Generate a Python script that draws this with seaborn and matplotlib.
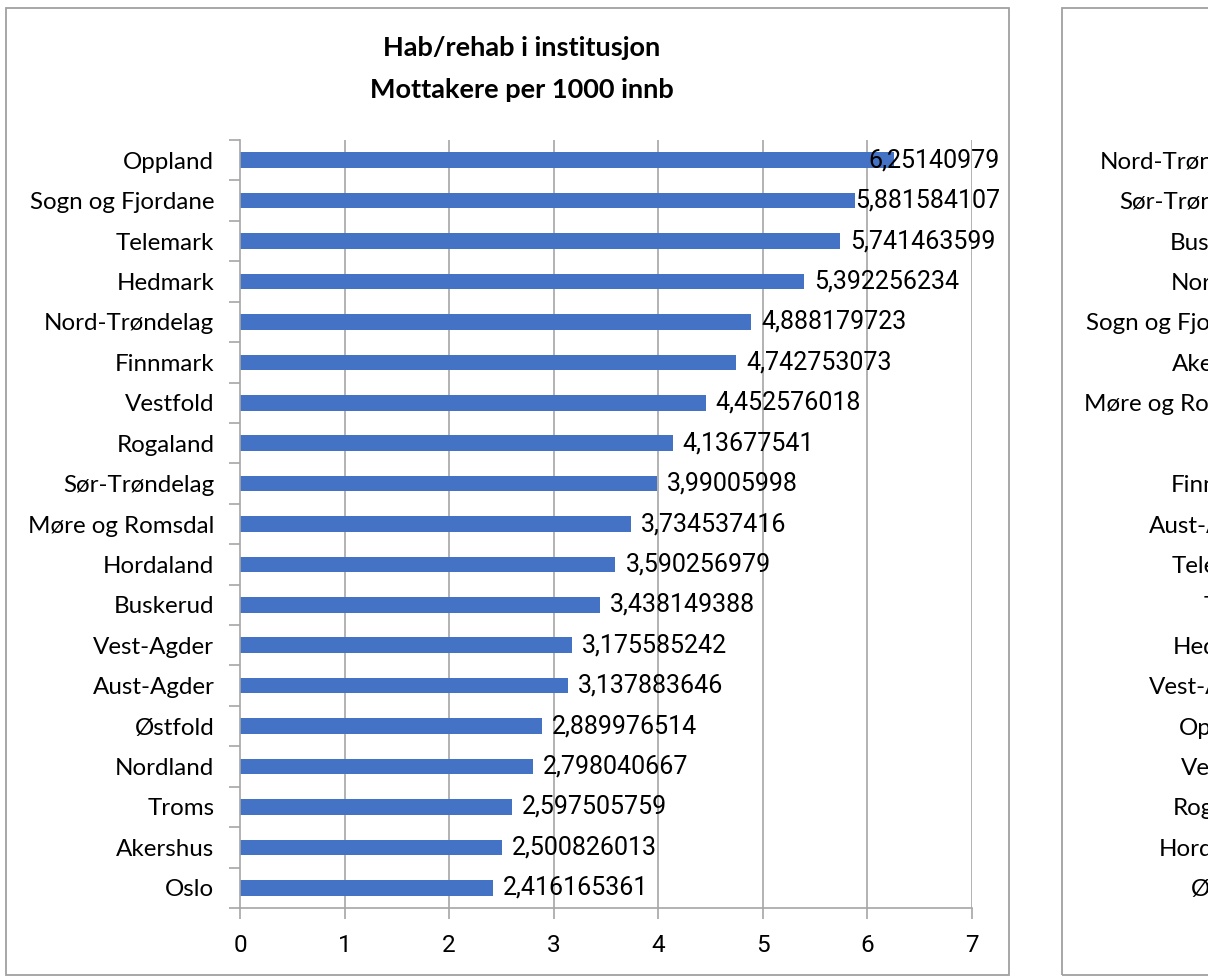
import matplotlib
matplotlib.use("Agg")
import matplotlib.pyplot as plt
import seaborn as sns
import pandas as pd
from matplotlib.patches import Rectangle
from matplotlib.ticker import FixedLocator
import matplotlib.transforms as mtransforms

# ---- data ----
counties = ["Oppland", "Sogn og Fjordane", "Telemark", "Hedmark", "Nord-Trøndelag",
            "Finnmark", "Vestfold", "Rogaland", "Sør-Trøndelag", "Møre og Romsdal",
            "Hordaland", "Buskerud", "Vest-Agder", "Aust-Agder", "Østfold",
            "Nordland", "Troms", "Akershus", "Oslo"]
values = [6.25140979, 5.881584107, 5.741463599, 5.392256234, 4.888179723,
          4.742753073, 4.452576018, 4.13677541, 3.99005998, 3.734537416,
          3.590256979, 3.438149388, 3.175585242, 3.137883646, 2.889976514,
          2.798040667, 2.597505759, 2.500826013, 2.416165361]
value_labels = ["6,25140979", "5,881584107", "5,741463599", "5,392256234", "4,888179723",
                "4,742753073", "4,452576018", "4,13677541", "3,99005998", "3,734537416",
                "3,590256979", "3,438149388", "3,175585242", "3,137883646", "2,889976514",
                "2,798040667", "2,597505759", "2,500826013", "2,416165361"]
x_ticks = [0, 1, 2, 3, 4, 5, 6, 7]
title_lines = ["Hab/rehab i institusjon", "Mottakere per 1000 innb"]

# second (cut-off) chart: only its category order is visible
counties2 = ["Nord-Trøndelag", "Sør-Trøndelag", "Buskerud", "Nordland", "Sogn og Fjordane",
             "Akershus", "Møre og Romsdal", "Oslo", "Finnmark", "Aust-Agder", "Telemark",
             "Troms", "Hedmark", "Vest-Agder", "Oppland", "Vestfold", "Rogaland",
             "Hordaland", "Østfold"]

W, H = 1208, 976
sns.set_theme(style="white")
plt.rcParams["font.family"] = ["Lato", "DejaVu Sans"]

BLUE = "#4472C4"
GRID = "#A6A6A6"
BORDER = "#A0A0A0"
FS_CAT = 17.4
FS_VAL = 18.0
FS_TICK = 17.5
NUM_FONT = ["Roboto", "DejaVu Sans"]

fig = plt.figure(figsize=(W / 100, H / 100), dpi=100)

def px_rect(x0, y0, x1, y1):
    return [x0 / W, 1 - y1 / H, (x1 - x0) / W, (y1 - y0) / H]

# chart borders
for (bx0, by0, bx1, by1) in [(6, 8, 1009, 975), (1062, 8, 2065, 975)]:
    r = px_rect(bx0, by0, bx1, by1)
    fig.patches.append(Rectangle((r[0], r[1]), r[2], r[3], transform=fig.transFigure,
                                 fill=False, edgecolor=BORDER, linewidth=1.3, zorder=0))

def style_axis(ax, cats):
    ax.set_xlim(0, 7)
    ax.set_ylim(len(cats) - 0.5, -0.5)
    ax.set_xticks(x_ticks)
    ax.set_xticklabels([str(t) for t in x_ticks], fontsize=FS_TICK, family=NUM_FONT)
    ax.set_yticks(range(len(cats)))
    ax.set_yticklabels(cats, fontsize=FS_CAT)
    ax.yaxis.set_minor_locator(FixedLocator([i - 0.5 for i in range(len(cats) + 1)]))
    ax.tick_params(axis="y", which="major", length=0, pad=18.5, colors="black")
    ax.tick_params(axis="y", which="minor", length=8, width=1.2, color=GRID, direction="out", left=True)
    ax.tick_params(axis="x", which="major", length=8, width=1.2, color=GRID, direction="out",
                   bottom=True, pad=11, labelcolor="black")
    for t in x_ticks[1:]:
        ax.axvline(t, color=GRID, linewidth=1.2, zorder=0)
    for s in ["top", "right"]:
        ax.spines[s].set_visible(False)
    for s in ["left", "bottom"]:
        ax.spines[s].set_color(GRID)
        ax.spines[s].set_linewidth(1.2)
    ax.set_xlabel("")
    ax.set_ylabel("")

# main chart
ax = fig.add_axes(px_rect(240, 140, 972, 908))
df = pd.DataFrame({"county": counties, "value": values})
sns.barplot(data=df, x="value", y="county", orient="h", color=BLUE, width=0.385,
            linewidth=0, saturation=1, ax=ax, zorder=2)
style_axis(ax, counties)

fig.canvas.draw()
renderer = fig.canvas.get_renderer()
limit_px = 1000
texts = []
for i, (v, lab) in enumerate(zip(values, value_labels)):
    t = ax.annotate(lab, xy=(v, i), xytext=(10, 0), textcoords="offset pixels",
                    ha="left", va="center", fontsize=FS_VAL, family=NUM_FONT,
                    color="black", zorder=3)
    texts.append(t)
fig.canvas.draw()
for i, t in enumerate(texts):
    bb = t.get_window_extent(renderer)
    if bb.x1 > limit_px:
        t.remove()
        trans = mtransforms.blended_transform_factory(fig.transFigure, ax.transData)
        ax.text(limit_px / W, i, value_labels[i], transform=trans, ha="right", va="center",
                fontsize=FS_VAL, family=NUM_FONT, color="black", zorder=3)

# title
fig.text(522 / W, 1 - 69 / H, "\n".join(title_lines), ha="center", va="center",
         fontsize=19.5, fontweight="bold", linespacing=1.85, color="black")

# second chart, mostly outside the frame
ax2 = fig.add_axes(px_rect(240 + 1056, 140, 972 + 1056, 908))
style_axis(ax2, counties2)

fig.savefig("out.png", dpi=100)
